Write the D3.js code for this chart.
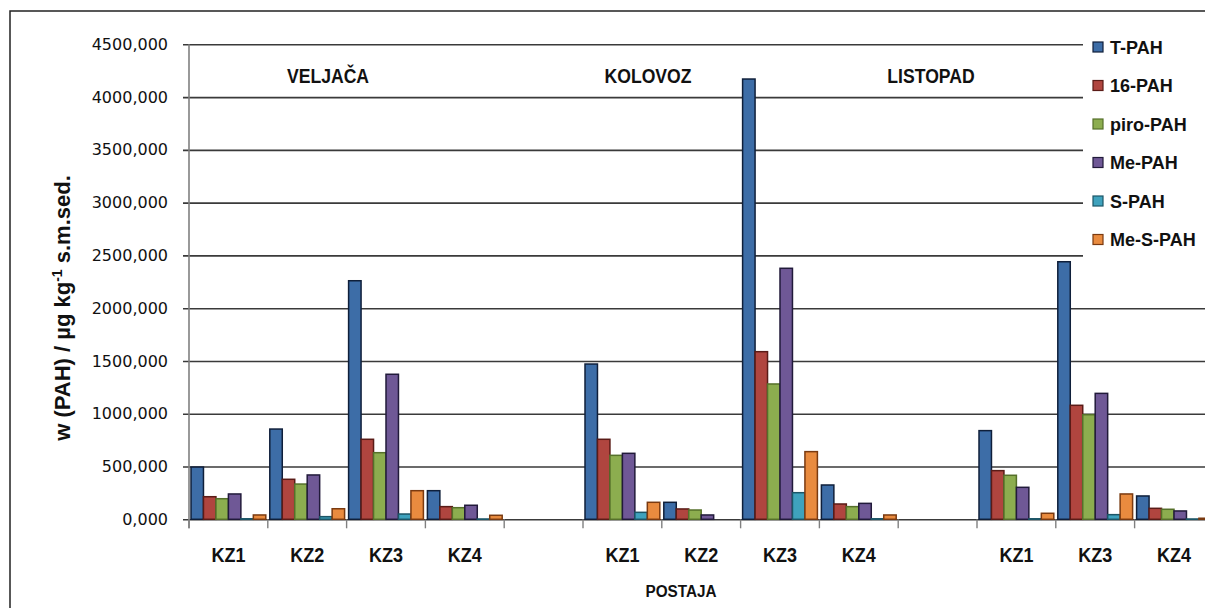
<!DOCTYPE html>
<html>
<head>
<meta charset="utf-8">
<script src="https://cdn.jsdelivr.net/npm/d3@7/dist/d3.min.js"></script>
<style>
  html, body { margin: 0; padding: 0; background: #fff; }
  svg { display: block; }
</style>
</head>
<body>
<svg id="chart" width="1205" height="608"></svg>
<script>
// Stations along the x axis; empty entries separate the three sampling months
const categories = ["KZ1", "KZ2", "KZ3", "KZ4", "", "KZ1", "KZ2", "KZ3", "KZ4", "", "KZ1", "KZ3", "KZ4"];
const months = ["VELJAČA", "KOLOVOZ", "LISTOPAD"];
const seriesNames = ["T-PAH", "16-PAH", "piro-PAH", "Me-PAH", "S-PAH", "Me-S-PAH"];

// Concentrations, µg/kg dry sediment
const tPAH   = [495, 855, 2260, 271, null, 1471, 161, 4171, 325, null, 840, 2440, 221];
const pah16  = [214, 379, 758, 120, null, 758, 98, 1588, 145, null, 461, 1080, 104];
const piroPAH = [195, 334, 631, 110, null, 606, 88, 1282, 120, null, 417, 991, 95];
const mePAH  = [240, 420, 1374, 133, null, 625, 41, 2378, 151, null, 303, 1193, 79];
const sPAH   = [5, 25, 50, 3, null, 66, 0, 252, 5, null, 5, 44, 3];
const meSPAH = [41, 100, 271, 38, null, 161, 0, 641, 41, null, 57, 240, 10];

const yTicks = [0, 500, 1000, 1500, 2000, 2500, 3000, 3500, 4000, 4500];

const seriesValues = [tPAH, pah16, piroPAH, mePAH, sPAH, meSPAH];
const fills   = ["#3d6da7", "#b0453f", "#8cad4f", "#6f5896", "#3fa2bd", "#e98b3f"];
const strokes = ["#0f1f3a", "#5a1b17", "#55702a", "#211a3a", "#1c5566", "#7a3a10"];

// Layout
const svg = d3.select("#chart");
const plotLeft = 189, plotBottom = 519.3, plotTop = 44.3, step = 78.8;
const legendLeft = 1083;

svg.append("rect").attr("width", 1205).attr("height", 608).attr("fill", "#fff");

const x0 = d3.scaleBand().domain(d3.range(categories.length))
  .range([plotLeft, plotLeft + step * categories.length]);
const x1 = d3.scaleBand().domain(seriesNames).range([2, step - 2]);
const y = d3.scaleLinear().domain([0, 4500]).range([plotBottom, plotTop]);

// Outer frame
svg.append("rect")
  .attr("x", 10).attr("y", 11).attr("width", 1400).attr("height", 800)
  .attr("fill", "none").attr("stroke", "#222").attr("stroke-width", 1.5);

// Horizontal gridlines with the value labels
const yAxis = d3.axisLeft(y).tickValues(yTicks)
  .tickSize(0).tickPadding(0)
  .tickFormat(d => d3.format(".3f")(d).replace(".", ","));
const gy = svg.append("g").attr("transform", `translate(${plotLeft},0)`).call(yAxis);
gy.select(".domain").remove();
gy.selectAll(".tick line")
  .attr("x1", -6)
  .attr("x2", d => (y(d) < 265 ? legendLeft - plotLeft : 1205 - plotLeft))
  .attr("stroke", "#3a3a3a").attr("stroke-width", 1.6);
gy.selectAll(".tick text")
  .attr("font-family", "DejaVu Sans").attr("font-size", 16).attr("fill", "#111")
  .attr("x", -21);

// Vertical axis line
svg.append("line")
  .attr("x1", plotLeft).attr("x2", plotLeft).attr("y1", plotTop).attr("y2", plotBottom + 9)
  .attr("stroke", "#808080").attr("stroke-width", 1.6);

// Category boundary ticks
svg.append("g").selectAll("line")
  .data(d3.range(categories.length + 1))
  .join("line")
  .attr("x1", i => plotLeft + i * step).attr("x2", i => plotLeft + i * step)
  .attr("y1", plotBottom).attr("y2", plotBottom + 9)
  .attr("stroke", "#808080").attr("stroke-width", 1.4);

// Bars
const groups = svg.append("g").selectAll("g")
  .data(categories.map((c, i) => i))
  .join("g")
  .attr("transform", i => `translate(${x0(i)},0)`);
groups.selectAll("rect")
  .data(i => seriesNames.map((s, k) => ({ s, k, v: seriesValues[k][i] })).filter(d => d.v))
  .join("rect")
  .attr("x", d => x1(d.s))
  .attr("y", d => y(d.v))
  .attr("width", x1.bandwidth())
  .attr("height", d => y(0) - y(d.v))
  .attr("fill", d => fills[d.k])
  .attr("stroke", d => strokes[d.k])
  .attr("stroke-width", 1.5);

// Horizontally condensed bold label
function boldText(parent, txt, x, yPos, size, sx) {
  parent.append("g").attr("transform", `translate(${x},${yPos})`)
    .append("text")
    .attr("transform", `scale(${sx},1)`)
    .attr("text-anchor", "middle")
    .attr("font-family", "Liberation Sans").attr("font-weight", "bold")
    .attr("font-size", size).attr("fill", "#111")
    .text(txt);
}

// Station labels
categories.forEach((c, i) => {
  if (c) boldText(svg, c, x0(i) + step / 2, 562, 20, 0.9);
});

// Month titles
const monthTitleX = [328, 648, 931];
months.forEach((m, i) => boldText(svg, m, monthTitleX[i], 83, 20, 0.88));

// Axis titles
boldText(svg, "POSTAJA", 681, 597, 17, 0.9);
const yt = svg.append("text")
  .attr("transform", "translate(70,308) rotate(-90)")
  .attr("text-anchor", "middle")
  .attr("font-family", "Liberation Sans").attr("font-weight", "bold")
  .attr("font-size", 22).attr("fill", "#111");
yt.append("tspan").text("w (PAH) / µg kg");
yt.append("tspan").attr("font-size", 14).attr("dy", -8).text("-1");
yt.append("tspan").attr("dy", 8).text(" s.m.sed.");

// Legend
svg.append("rect").attr("x", legendLeft).attr("y", 28)
  .attr("width", 1205 - legendLeft).attr("height", 234).attr("fill", "#fff");
const lg = svg.append("g").selectAll("g")
  .data(seriesNames)
  .join("g")
  .attr("transform", (d, i) => `translate(1093,${47 + i * 38.5})`);
lg.append("rect").attr("x", 0).attr("y", -5).attr("width", 10).attr("height", 10)
  .attr("fill", (d, i) => fills[i]).attr("stroke", (d, i) => strokes[i]).attr("stroke-width", 1.2);
lg.append("text").attr("x", 17).attr("y", 6.5)
  .attr("font-family", "Liberation Sans").attr("font-weight", "bold")
  .attr("font-size", 18).attr("fill", "#111")
  .text(d => d);
</script>
</body>
</html>
